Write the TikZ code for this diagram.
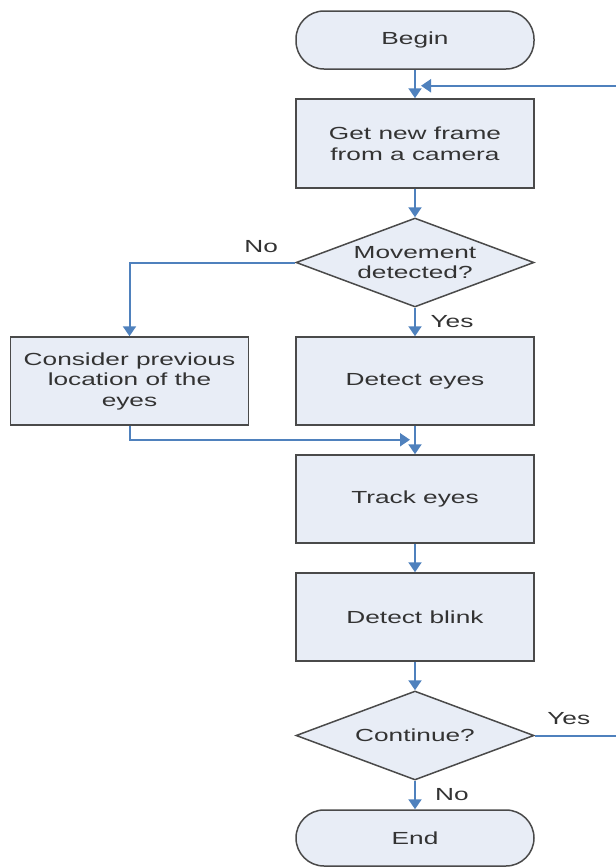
\documentclass[tikz,border=0pt]{standalone}
\usepackage{fontspec}
\setmainfont[FakeStretch=1.5]{Liberation Sans}
\usetikzlibrary{shapes.geometric,arrows.meta,positioning}

\definecolor{boxfill}{HTML}{E8EDF6}
\definecolor{flowblue}{HTML}{4F81BD}
\definecolor{edgegray}{HTML}{4A4A4A}

\tikzset{
  base/.style={draw=edgegray, line width=1.5pt, fill=boxfill, text=black!80,
    font=\fontsize{17.5}{20.5}\selectfont, align=center},
  process/.style={base, rectangle, minimum width=238pt, minimum height=88pt},
  terminal/.style={base, rectangle, rounded corners=28pt, minimum width=238pt, minimum height=58pt},
  decision/.style={base, diamond, aspect=2.65, inner sep=0pt, minimum width=238pt, minimum height=89pt},
  flow/.style={draw=flowblue, line width=2pt, -{Triangle[length=10pt,width=13pt]}},
  answer/.style={text=black!80, font=\fontsize{17.5}{20.5}\selectfont}
}

\begin{document}
\begin{tikzpicture}[node distance=28.5pt]
    \useasboundingbox (0,0) rectangle (616pt,-868pt);
    \clip (0,0) rectangle (616pt,-868pt);

    \node[terminal] (begin) at (415pt,-40pt) {Begin};
    \node[process, minimum height=89pt] (get) [below=of begin] {Get new frame\\from a camera};
    \node[decision] (movement) [below=of get] {Movement\\detected?};
    \node[process] (detect) [below=of movement] {Detect eyes};
    \node[process] (consider) [left=46pt of detect] {Consider previous\\location of the\\eyes};
    \node[process] (track) [below=of detect] {Track eyes};
    \node[process] (blink) [below=of track] {Detect blink};
    \node[decision] (continue) [below=of blink] {Continue?};
    \node[terminal, minimum height=56pt] (end) [below=of continue] {End};

    \coordinate (merge) at ([xshift=-5pt,yshift=-14pt]detect.south);
    \coordinate (back) at ([xshift=6pt,yshift=-16pt]begin.south);
    \coordinate (corner) at ([xshift=100pt]continue.east);

    \draw[flow] (begin) -- (get);
    \draw[flow] (get) -- (movement);
    \draw[flow] (movement) -- (detect);
    \draw[flow] (movement.west) -| (consider.north);
    \draw[flow] (detect) -- (track);
    \draw[flow] (consider.south) |- (merge);
    \draw[flow] (track) -- (blink);
    \draw[flow] (blink) -- (continue);
    \draw[flow] (continue) -- (end);
    \draw[flow] (continue.east) -- (corner) |- (back);

    \node[answer] (nomove) at ([xshift=-34pt,yshift=16pt]movement.west) {No};
    \node[answer] (yesmove) at ([xshift=37pt,yshift=-14pt]movement.south) {Yes};
    \node[answer] (yesgo) at ([xshift=34pt,yshift=17pt]continue.east) {Yes};
    \node[answer] (stop) at ([xshift=37pt,yshift=-14pt]continue.south) {No};
\end{tikzpicture}
\end{document}
